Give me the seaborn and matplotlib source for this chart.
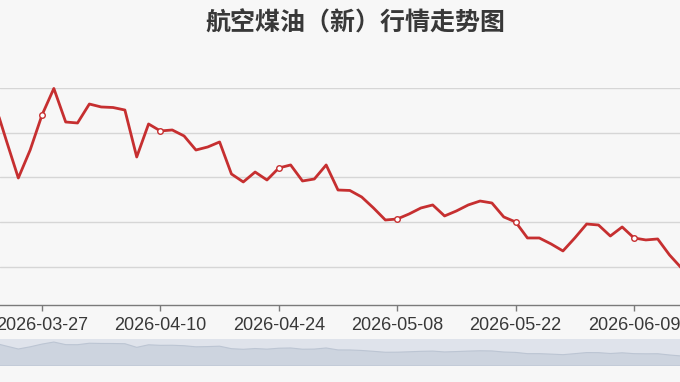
import matplotlib.pyplot as plt
import numpy as np
import pandas as pd
import seaborn as sns

# Daily price points (category axis, one point per trading day).
price = [
    8832, 8408, 7994, 8307, 8698, 8995, 8620, 8609, 8821, 8788,
    8782, 8754, 8229, 8598, 8520, 8531, 8464, 8307, 8341, 8397,
    8039, 7950, 8061, 7972, 8106, 8140, 7961, 7983, 8140, 7860,
    7855, 7782, 7659, 7525, 7536, 7592, 7659, 7693, 7570, 7626,
    7693, 7737, 7715, 7559, 7503, 7324, 7324, 7257, 7179, 7324,
    7480, 7469, 7346, 7447, 7324, 7302, 7313, 7134, 6989,
]
tick_labels = ["2026-03-27", "2026-04-10", "2026-04-24",
               "2026-05-08", "2026-05-22", "2026-06-09"]
grid_values = [7000, 7500, 8000, 8500, 9000]
title = "航空煤油（新）行情走势图"

df = pd.DataFrame({"idx": np.arange(len(price)), "price": price})
tick_idx = np.arange(4, len(price), 10)[: len(tick_labels)]

bg = "#f7f7f7"
red = "#c62f30"

sns.set_theme(style="white")
plt.rcParams["font.family"] = ["Liberation Sans", "Noto Sans CJK SC", "DejaVu Sans"]

fig = plt.figure(figsize=(6.8, 3.82), dpi=100, facecolor=bg)
ax = fig.add_axes([0, 1 - 305 / 382, 1, (305 - 88) / 382])
ax.set_facecolor(bg)

sns.lineplot(data=df, x="idx", y="price", ax=ax, color=red, linewidth=2.0,
             clip_on=False, zorder=3)
sns.scatterplot(data=df.iloc[tick_idx], x="idx", y="price", ax=ax,
                marker="o", s=16, facecolor="white", edgecolor=red,
                linewidth=1.0, zorder=4, clip_on=False)

ax.set_xlim(4 - 42 / 11.84, 4 + 638 / 11.84)
ax.set_ylim(6575, 9000)
for v in grid_values:
    ax.axhline(v, color="#d6d6d6", linewidth=1, zorder=1)

ax.set_xticks(tick_idx)
ax.set_xticklabels(tick_labels, fontsize=13, color="#383838")
ax.set_yticks([])
ax.set_xlabel("")
ax.set_ylabel("")
for side in ["left", "right", "top"]:
    ax.spines[side].set_visible(False)
ax.spines["bottom"].set_color("#7a7a7a")
ax.spines["bottom"].set_linewidth(1)
ax.tick_params(axis="x", bottom=True, length=4, width=1, color="#7a7a7a", pad=5)

fig.text(355 / 680, 1 - 23 / 382, title, ha="center", va="center", fontsize=18,
         fontweight="bold", color="#383838", family=["Noto Sans CJK SC", "DejaVu Sans"])

# data zoom slider with data shadow
sl = fig.add_axes([0, 1 - 366 / 382, 1, 27 / 382])
sl.set_facecolor("#dfe3eb")
sl.fill_between(df["idx"], df["price"], 5550, color="#cdd4df", linewidth=0.8,
                edgecolor="#bcc5d3")
sl.set_xlim(ax.get_xlim())
sl.set_ylim(5550, 9430)
sl.set_xticks([])
sl.set_yticks([])
for s in sl.spines.values():
    s.set_visible(False)

fig.savefig("out.png", dpi=100, facecolor=bg)
